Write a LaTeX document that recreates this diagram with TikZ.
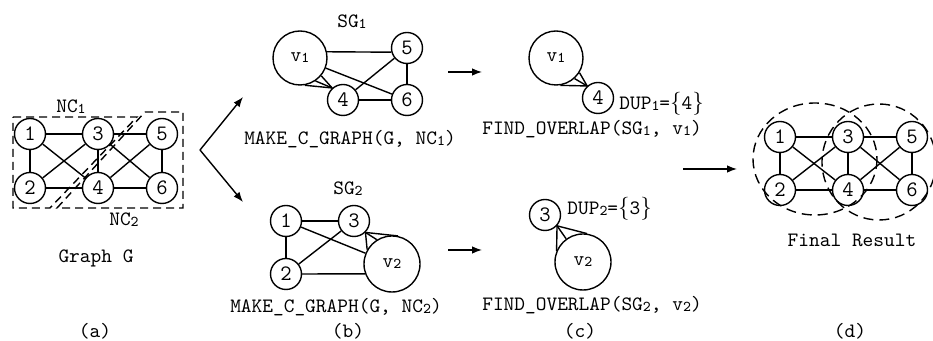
\documentclass[tikz,border=0pt]{standalone}
\usepackage{fontspec}
\usetikzlibrary{arrows.meta}

% text sizes (one unit of the grid below is half a point)
\newcommand\lblfont{\ttfamily\fontsize{10.2pt}{11pt}\selectfont}
\newcommand\numfont{\ttfamily\fontsize{11pt}{12pt}\selectfont}
% small index digit, as in NC1, SG1, v1
\newcommand\ix[1]{\raisebox{-0.5pt}{\fontsize{7.5pt}{8pt}\selectfont #1}}
\newcommand\lbr{{\rmfamily\fontsize{11.5pt}{12pt}\selectfont\{}}
\newcommand\rbr{{\rmfamily\fontsize{11.5pt}{12pt}\selectfont\}}}

\tikzset{
  vtx/.style={circle, draw, line width=0.7pt, minimum size=15.5pt, inner sep=0pt, font=\numfont},
  bigvtx/.style={circle, draw, line width=0.7pt, minimum size=27pt, inner sep=0pt, font=\lblfont},
  edge/.style={line width=0.7pt},
  region/.style={line width=0.7pt, dash pattern=on 4pt off 2.5pt},
  lbl/.style={font=\lblfont, inner sep=0pt},
  arr/.style={line width=0.7pt, -{Latex[length=5pt,width=3.8pt]}}
}

\begin{document}
\begin{tikzpicture}[x=0.5pt, y=-0.5pt]
\path[use as bounding box, clip] (0,0) rectangle (933,341);

% ---------- (a) the graph G with its two node clusters ----------
\node[vtx] (a1) at (30,134) {1};
\node[vtx] (a3) at (98,134) {3};
\node[vtx] (a5) at (162,134) {5};
\node[vtx] (a2) at (30,188) {2};
\node[vtx] (a4) at (98,188) {4};
\node[vtx] (a6) at (162,188) {6};
\foreach \u/\v in {a1/a3, a3/a5, a1/a2, a3/a4, a5/a6, a2/a4, a4/a6, a1/a4, a2/a3, a3/a6, a4/a5}
  \draw[edge] (\u) -- (\v);
\draw[region] (13,117) -- (137,117) -- (50,208) -- (13,208) -- cycle;
\draw[region] (145,112) -- (183,112) -- (183,208) -- (57,208) -- cycle;
\node[lbl] (nc1) at (71,107) {NC\ix{1}};
\node[lbl] (nc2) at (124,220) {NC\ix{2}};
\node[lbl] (gg) at (96,258) {Graph G};
\node[lbl] (capa) at (95,331) {(a)};

% split arrows towards the two cluster graphs
\coordinate (apex) at (200,150);
\coordinate (uptip) at (243,97);
\coordinate (dntip) at (243,202);
\draw[arr] (apex) -- (uptip);
\draw[arr] (apex) -- (dntip);

% ---------- (b) top: SG1 ----------
\node[lbl] (sg1) at (352,22) {SG\ix{1}};
\node[bigvtx] (bv1) at (300,58) {v\ix{1}};
\node[vtx] (b5) at (407,48) {5};
\node[vtx] (b4) at (343,100) {4};
\node[vtx] (b6) at (407,100) {6};
\draw[edge] (bv1.13) -- (b5.195);
\draw[edge] (bv1) -- (b6);
\draw[edge] (b4) -- (b5);
\draw[edge] (b4) -- (b6);
\draw[edge] (b5) -- (b6);
\foreach \a in {-80,-56,-40} \draw[edge] (bv1.\a) -- (b4.132);
\node[lbl] (mk1) at (350,139) {MAKE\_C\_GRAPH(G, NC\ix{1})};

% ---------- (b) bottom: SG2 ----------
\node[lbl] (sg2) at (348,189) {SG\ix{2}};
\node[vtx] (b1) at (286,221) {1};
\node[vtx] (b3) at (354,221) {3};
\node[vtx] (b2) at (286,274) {2};
\node[bigvtx, minimum size=28pt] (bv2) at (392,264) {v\ix{2}};
\draw[edge] (b1) -- (b3);
\draw[edge] (b1) -- (b2);
\draw[edge] (b1) -- (bv2);
\draw[edge] (b2) -- (b3);
\draw[edge] (b2.east) -- (bv2.200);
\foreach \a in {150,122,78} \draw[edge] (b3.-45) -- (bv2.\a);
\node[lbl] (mk2) at (336,307) {MAKE\_C\_GRAPH(G, NC\ix{2})};
\node[lbl] (capb) at (348,331) {(b)};

% arrows from (b) to (c)
\coordinate (t1s) at (448,72);
\coordinate (t1e) at (482,72);
\coordinate (t2s) at (448,250);
\coordinate (t2e) at (482,250);
\draw[arr] (t1s) -- (t1e);
\draw[arr] (t2s) -- (t2e);

% ---------- (c) top: overlap of SG1 ----------
\node[bigvtx] (cv1) at (556,58) {v\ix{1}};
\node[vtx] (c4) at (598,98) {4};
\foreach \a in {-81,-48,-32} \draw[edge] (cv1.\a) -- (c4.132);
\node[lbl, anchor=west] (dup1) at (619,104) {DUP\ix{1}=\lbr4\rbr};
\node[lbl] (fo1) at (592,129) {FIND\_OVERLAP(SG\ix{1}, v\ix{1})};

% ---------- (c) bottom: overlap of SG2 ----------
\node[vtx] (c3) at (545,215) {3};
\node[bigvtx, minimum size=28pt] (cv2) at (583,262) {v\ix{2}};
\foreach \a in {157,126,82} \draw[edge] (c3.-42) -- (cv2.\a);
\node[lbl, anchor=west] (dup2) at (567,209) {DUP\ix{2}=\lbr3\rbr};
\node[lbl] (fo2) at (592,305) {FIND\_OVERLAP(SG\ix{2}, v\ix{2})};
\node[lbl] (capc) at (580,331) {(c)};

% arrow from (c) to (d)
\coordinate (t3s) at (683,169);
\coordinate (t3e) at (737,169);
\draw[arr] (t3s) -- (t3e);

% ---------- (d) merged result ----------
\node[vtx] (d1) at (780,137) {1};
\node[vtx] (d3) at (848,137) {3};
\node[vtx] (d5) at (912,137) {5};
\node[vtx] (d2) at (780,190) {2};
\node[vtx] (d4) at (848,190) {4};
\node[vtx] (d6) at (912,190) {6};
\foreach \u/\v in {d1/d3, d3/d5, d1/d2, d3/d4, d5/d6, d2/d4, d4/d6, d1/d4, d2/d3, d3/d6, d4/d5}
  \draw[edge] (\u) -- (\v);
\draw[region, dash pattern=on 5pt off 3pt] (815,159) ellipse [x radius=62, y radius=56];
\draw[region, dash pattern=on 5pt off 3pt] (879,162) ellipse [x radius=57, y radius=58];
\node[lbl] (fr) at (852,240) {Final Result};
\node[lbl] (capd) at (850,331) {(d)};
\end{tikzpicture}
\end{document}
